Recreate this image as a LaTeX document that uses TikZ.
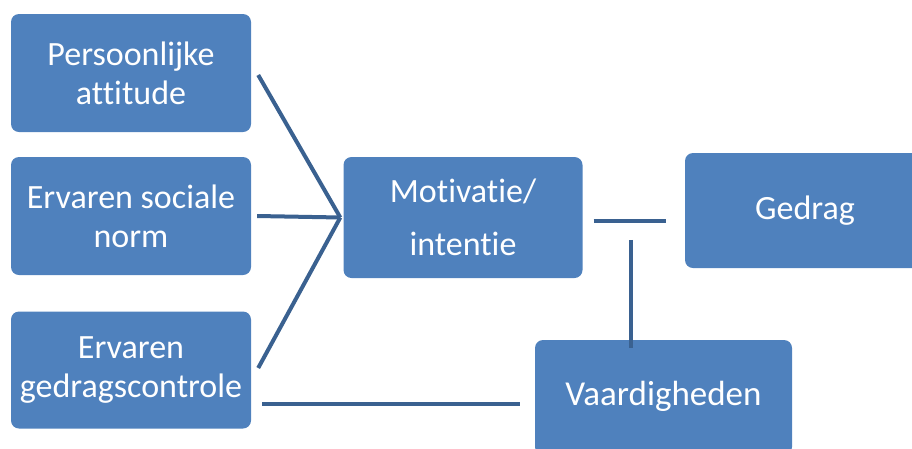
\documentclass[tikz,border=0pt]{standalone}
\usepackage{fontspec}
\setmainfont[Ligatures=NoCommon]{Carlito}
\definecolor{boxblue}{HTML}{4F81BD}
\definecolor{lineblue}{HTML}{3A6190}
\tikzset{box/.style={fill=boxblue, rounded corners=8pt, text=white, align=center,
    inner sep=0pt, font=\fontsize{34}{39}\selectfont},
    link/.style={lineblue, line width=4pt},
    }

\begin{document}
\begin{tikzpicture}[x=1pt,y=-1pt]
	\useasboundingbox (0,0) rectangle (912,448);
	\begin{scope}
	\clip (0,0) rectangle (912,448);
	\node[box, minimum width=240pt, minimum height=118pt] (att) at (131,73) {Persoonlijke\\attitude};
	\node[box, minimum width=240pt, minimum height=118pt] (norm) at (131,216) {Ervaren sociale\\norm};
	\node[box, minimum width=240pt, minimum height=117pt] (ctrl) at (131,370) {Ervaren\\gedragscontrole};
	\node[box, minimum width=239pt, minimum height=121pt, font=\fontsize{34}{53}\selectfont] (mot) at (463,217.5) {Motivatie/\\intentie};
	\node[box, minimum width=240pt, minimum height=115pt] (ged) at (805,210.5) {Gedrag};
	\node[box, minimum width=257pt, minimum height=115pt, font=\fontsize{35}{40}\selectfont] (vaard) at (663.5,397.5) {\raisebox{9pt}{Vaardigheden}};
	\end{scope}
	% connectors (with gaps to the boxes)
	\coordinate (hub) at ([xshift=-3pt]mot.west);
	\draw[link] ([shift={(7,2)}]att.east) -- (hub);
	\draw[link] ([xshift=6pt]norm.east) -- (hub);
	\draw[link] ([shift={(7,-2)}]ctrl.east) -- (hub);
	\draw[link] ([shift={(11,34)}]ctrl.east) -- ([shift={(-15,6.5)}]vaard.west);
	\draw[link] ([shift={(11,3.5)}]mot.east) -- ([shift={(-19,10.5)}]ged.west);
	\draw[link] ([shift={(-32.5,-100)}]vaard.north) -- ([xshift=-32.5pt,yshift=-8pt]vaard.north);
\end{tikzpicture}
\end{document}
